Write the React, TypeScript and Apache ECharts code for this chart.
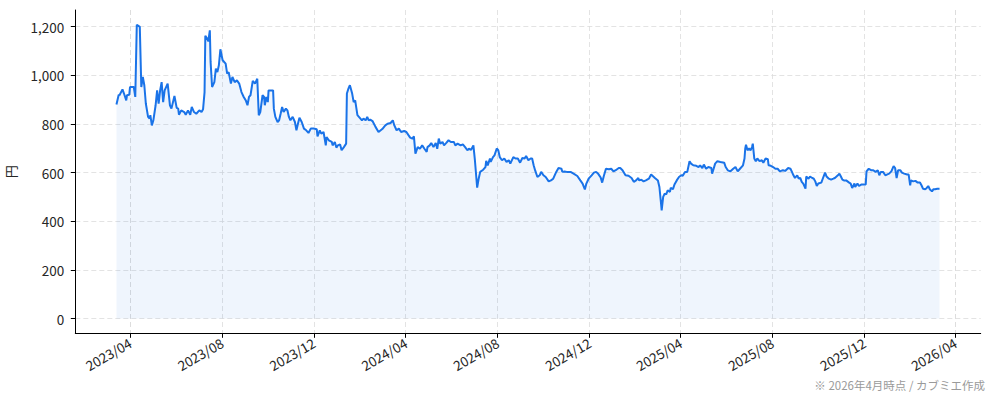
import React, { useEffect, useRef } from 'react';
import * as echarts from 'echarts';

const dates = [
  '2023-03-14','2023-03-17','2023-03-18','2023-03-22','2023-03-24','2023-03-27','2023-03-28','2023-03-31','2023-04-01','2023-04-06',
  '2023-04-08','2023-04-10','2023-04-14','2023-04-16','2023-04-18','2023-04-20','2023-04-22','2023-04-25','2023-04-27','2023-04-28',
  '2023-04-30','2023-05-02','2023-05-05','2023-05-07','2023-05-09','2023-05-11','2023-05-13','2023-05-15','2023-05-17','2023-05-21',
  '2023-05-24','2023-05-26','2023-05-30','2023-06-02','2023-06-04','2023-06-05','2023-06-08','2023-06-12','2023-06-14','2023-06-17',
  '2023-06-20','2023-06-22','2023-06-25','2023-06-28','2023-07-02','2023-07-05','2023-07-07','2023-07-09','2023-07-10','2023-07-12',
  '2023-07-14','2023-07-16','2023-07-17','2023-07-19','2023-07-22','2023-07-24','2023-07-26','2023-07-28','2023-07-30','2023-08-02',
  '2023-08-06','2023-08-08','2023-08-10','2023-08-13','2023-08-15','2023-08-18','2023-08-21','2023-08-24','2023-08-27','2023-08-30',
  '2023-09-02','2023-09-04','2023-09-06','2023-09-08','2023-09-11','2023-09-14','2023-09-17','2023-09-19','2023-09-21','2023-09-24',
  '2023-09-26','2023-09-27','2023-09-29','2023-10-01','2023-10-02','2023-10-08','2023-10-09','2023-10-11','2023-10-14','2023-10-16',
  '2023-10-18','2023-10-20','2023-10-22','2023-10-25','2023-10-27','2023-10-29','2023-10-31','2023-11-03','2023-11-06','2023-11-08',
  '2023-11-10','2023-11-12','2023-11-15','2023-11-18','2023-11-21','2023-11-24','2023-11-27','2023-12-01','2023-12-05','2023-12-06',
  '2023-12-09','2023-12-11','2023-12-14','2023-12-17','2023-12-18','2023-12-21','2023-12-25','2023-12-26','2023-12-29','2023-12-31',
  '2024-01-02','2024-01-05','2024-01-07','2024-01-10','2024-01-13','2024-01-14','2024-01-16','2024-01-18','2024-01-21','2024-01-23',
  '2024-01-25','2024-01-28','2024-02-01','2024-02-03','2024-02-05','2024-02-08','2024-02-10','2024-02-12','2024-02-14','2024-02-17',
  '2024-02-21','2024-02-25','2024-03-01','2024-03-05','2024-03-08','2024-03-12','2024-03-15','2024-03-17','2024-03-20','2024-03-23',
  '2024-03-26','2024-03-30','2024-04-02','2024-04-05','2024-04-07','2024-04-10','2024-04-12','2024-04-14','2024-04-17','2024-04-20',
  '2024-04-23','2024-04-26','2024-04-29','2024-04-30','2024-05-03','2024-05-05','2024-05-08','2024-05-11','2024-05-13','2024-05-15',
  '2024-05-17','2024-05-20','2024-05-22','2024-05-25','2024-05-28','2024-05-31','2024-06-04','2024-06-06','2024-06-09','2024-06-13',
  '2024-06-16','2024-06-19','2024-06-22','2024-06-24','2024-06-27','2024-06-30','2024-07-02','2024-07-05','2024-07-07','2024-07-09',
  '2024-07-13','2024-07-16','2024-07-17','2024-07-19','2024-07-22','2024-07-23','2024-07-26','2024-07-28','2024-07-31','2024-08-02',
  '2024-08-04','2024-08-07','2024-08-10','2024-08-13','2024-08-16','2024-08-18','2024-08-22','2024-08-25','2024-08-28','2024-08-31',
  '2024-09-03','2024-09-06','2024-09-08','2024-09-11','2024-09-14','2024-09-16','2024-09-18','2024-09-20','2024-09-23','2024-09-26',
  '2024-09-28','2024-10-01','2024-10-04','2024-10-08','2024-10-11','2024-10-14','2024-10-18','2024-10-21','2024-10-25','2024-10-26',
  '2024-10-29','2024-11-01','2024-11-06','2024-11-10','2024-11-15','2024-11-19','2024-11-22','2024-11-25','2024-11-27','2024-11-30',
  '2024-12-04','2024-12-07','2024-12-10','2024-12-13','2024-12-16','2024-12-18','2024-12-20','2024-12-23','2024-12-27','2024-12-30',
  '2025-01-02','2025-01-05','2025-01-09','2025-01-11','2025-01-14','2025-01-18','2025-01-22','2025-01-26','2025-01-29','2025-02-01',
  '2025-02-04','2025-02-05','2025-02-08','2025-02-11','2025-02-14','2025-02-18','2025-02-21','2025-02-26','2025-03-02','2025-03-04',
  '2025-03-06','2025-03-07','2025-03-09','2025-03-11','2025-03-13','2025-03-15','2025-03-18','2025-03-19','2025-03-22','2025-03-24',
  '2025-03-27','2025-03-30','2025-04-02','2025-04-04','2025-04-07','2025-04-10','2025-04-13','2025-04-15','2025-04-18','2025-04-22',
  '2025-04-25','2025-04-27','2025-04-30','2025-05-02','2025-05-05','2025-05-08','2025-05-12','2025-05-13','2025-05-15','2025-05-17',
  '2025-05-20','2025-05-24','2025-05-29','2025-05-31','2025-06-03','2025-06-06','2025-06-10','2025-06-13','2025-06-16','2025-06-19',
  '2025-06-23','2025-06-25','2025-06-26','2025-06-27','2025-06-29','2025-07-01','2025-07-03','2025-07-05','2025-07-06','2025-07-08',
  '2025-07-10','2025-07-12','2025-07-15','2025-07-18','2025-07-20','2025-07-23','2025-07-26','2025-07-27','2025-07-30','2025-08-02',
  '2025-08-05','2025-08-08','2025-08-11','2025-08-15','2025-08-18','2025-08-22','2025-08-25','2025-08-27','2025-08-29','2025-08-31',
  '2025-09-03','2025-09-05','2025-09-07','2025-09-09','2025-09-11','2025-09-14','2025-09-15','2025-09-18','2025-09-20','2025-09-23',
  '2025-09-25','2025-09-27','2025-09-29','2025-10-01','2025-10-05','2025-10-08','2025-10-10','2025-10-12','2025-10-15','2025-10-18',
  '2025-10-21','2025-10-23','2025-10-27','2025-10-29','2025-10-31','2025-11-02','2025-11-04','2025-11-07','2025-11-11','2025-11-13',
  '2025-11-15','2025-11-18','2025-11-19','2025-11-22','2025-11-24','2025-11-27','2025-11-30','2025-12-03','2025-12-04','2025-12-07',
  '2025-12-10','2025-12-13','2025-12-16','2025-12-19','2025-12-21','2025-12-23','2025-12-26','2025-12-29','2025-12-31','2026-01-03',
  '2026-01-06','2026-01-09','2026-01-11','2026-01-13','2026-01-15','2026-01-18','2026-01-20','2026-01-23','2026-01-27','2026-01-29',
  '2026-01-31','2026-02-01','2026-02-04','2026-02-07','2026-02-10','2026-02-13','2026-02-15','2026-02-17','2026-02-20','2026-02-22',
  '2026-02-24','2026-02-26','2026-03-01','2026-03-03','2026-03-05','2026-03-08','2026-03-11',
];

const prices = [
  880, 920, 918, 942, 925, 897, 918, 920, 952, 952,
  911, 1208, 1199, 952, 993, 959, 884, 829, 822, 836,
  794, 815, 877, 938, 884, 938, 972, 890, 938, 966,
  877, 863, 915, 866, 863, 838, 856, 849, 838, 856,
  838, 870, 849, 842, 856, 849, 860, 931, 1162, 1153,
  1140, 1185, 1055, 952, 972, 1027, 1013, 1041, 1107, 1062,
  1048, 1007, 1013, 966, 993, 972, 979, 966, 931, 911,
  895, 877, 911, 918, 977, 966, 986, 836, 849, 918,
  911, 877, 911, 890, 938, 938, 863, 829, 808, 815,
  842, 870, 849, 863, 856, 829, 815, 829, 808, 774,
  801, 826, 808, 781, 774, 763, 781, 781, 778, 749,
  774, 760, 767, 712, 746, 733, 726, 712, 726, 703,
  712, 716, 692, 705, 719, 925, 945, 959, 925, 890,
  897, 836, 822, 815, 822, 815, 829, 815, 818, 812,
  788, 767, 779, 794, 801, 804, 815, 794, 774, 781,
  767, 771, 767, 753, 744, 740, 749, 678, 705, 698,
  712, 698, 685, 705, 712, 722, 705, 722, 698, 740,
  719, 726, 712, 722, 733, 726, 726, 712, 719, 712,
  716, 705, 692, 698, 694, 712, 651, 538, 575, 603,
  612, 623, 648, 630, 658, 644, 664, 671, 699, 692,
  664, 651, 658, 644, 651, 637, 664, 658, 658, 641,
  660, 658, 668, 651, 658, 658, 630, 609, 582, 589,
  603, 589, 582, 564, 568, 575, 603, 619, 616, 603,
  605, 603, 603, 596, 586, 568, 555, 531, 555, 575,
  589, 600, 603, 594, 580, 559, 584, 616, 614, 616,
  605, 610, 619, 619, 610, 589, 587, 578, 562, 568,
  578, 568, 571, 564, 568, 575, 592, 578, 568, 541,
  479, 445, 500, 514, 510, 527, 521, 537, 532, 551,
  568, 582, 589, 587, 603, 603, 647, 637, 630, 628,
  623, 630, 619, 633, 616, 623, 619, 596, 616, 637,
  647, 644, 641, 623, 609, 605, 616, 623, 605, 616,
  630, 658, 699, 715, 692, 699, 692, 705, 719, 658,
  647, 658, 647, 651, 641, 658, 655, 630, 628, 623,
  616, 616, 605, 610, 607, 619, 616, 603, 589, 578,
  589, 575, 578, 562, 555, 534, 584, 575, 584, 578,
  575, 564, 545, 555, 559, 584, 600, 584, 575, 571,
  575, 578, 589, 596, 584, 571, 568, 568, 559, 555,
  537, 555, 541, 555, 545, 551, 551, 551, 605, 616,
  610, 610, 603, 610, 589, 603, 603, 589, 592, 596,
  605, 627, 619, 578, 610, 610, 600, 596, 592, 592,
  548, 568, 564, 566, 559, 559, 548, 534, 532, 537,
  545, 532, 523, 532, 532, 534, 534,
];

const xTickLabels = ['2023/04', '2023/08', '2023/12', '2024/04', '2024/08', '2024/12', '2025/04', '2025/08', '2025/12', '2026/04'];
const yTicks = [0, 200, 400, 600, 800, 1000, 1200];
const yAxisName = '円';
const footnote = '※ 2026年4月時点 / カブミエ作成';

const FONT = '"Noto Sans CJK JP", "Noto Sans", sans-serif';

function toTime(s: string): number {
  const parts = s.split(/[-/]/).map(Number);
  return new Date(parts[0], parts[1] - 1, parts[2] || 1).getTime();
}

export default function App() {
  const ref = useRef<HTMLDivElement>(null);

  useEffect(() => {
    if (!ref.current) return;
    const chart = echarts.init(ref.current, null, { renderer: 'svg' });

    const times = dates.map(toTime);
    const tMin = times[0];
    const tMax = times[times.length - 1];
    const tPad = (tMax - tMin) * 0.05;
    const vMin = 0;
    const vMax = Math.max(...prices);
    const vPad = (vMax - vMin) * 0.05;
    const tickTimes = xTickLabels.map(toTime);

    const gridLine = { show: true, lineStyle: { color: '#dcdcdc', type: [5, 3], width: 0.8 } };

    chart.setOption({
      animation: false,
      textStyle: { fontFamily: FONT },
      grid: {
        left: 75.3,
        right: 13.3,
        top: 10,
        bottom: 67.7,
        containLabel: false,
        outerBoundsMode: 'none',
      },
      xAxis: {
        type: 'time',
        min: tMin - tPad,
        max: tMax + tPad,
        axisLine: { show: true, onZero: false, lineStyle: { color: '#000', width: 1 } },
        axisTick: { show: true, length: 4.5, customValues: tickTimes, lineStyle: { color: '#000', width: 1 } },
        axisLabel: {
          customValues: tickTimes,
          formatter: '{yyyy}/{MM}',
          rotate: 30,
          margin: 8,
          fontSize: 13.5,
          color: '#262626',
          fontFamily: FONT,
          hideOverlap: false,
        },
        splitLine: gridLine,
      },
      yAxis: {
        type: 'value',
        min: vMin - vPad,
        max: vMax + vPad,
        name: yAxisName,
        nameLocation: 'middle',
        nameGap: 58,
        nameRotate: 90,
        nameTextStyle: { fontSize: 13, color: '#262626', fontFamily: FONT },
        axisLine: { show: true, onZero: false, lineStyle: { color: '#000', width: 1 } },
        axisTick: { show: true, length: 4.5, customValues: yTicks, lineStyle: { color: '#000', width: 1 } },
        axisLabel: {
          customValues: yTicks,
          formatter: (v: number) => v.toLocaleString('en-US'),
          margin: 11,
          fontSize: 13.5,
          color: '#262626',
          fontFamily: FONT,
        },
        splitLine: gridLine,
      },
      series: [
        {
          type: 'line',
          data: times.map((t, i) => [t, prices[i]]),
          showSymbol: false,
          symbol: 'none',
          lineStyle: { color: '#1a73e8', width: 2 },
          itemStyle: { color: '#1a73e8' },
          areaStyle: { color: 'rgba(26,115,232,0.1)', origin: 0 },
        },
      ],
      graphic: [
        {
          type: 'text',
          right: 9,
          top: 379,
          style: { text: footnote, fontSize: 11.5, fill: '#9a9a9a', fontFamily: FONT },
        },
      ],
    });

    return () => chart.dispose();
  }, []);

  return <div ref={ref} style={{ position: 'absolute', left: 0, top: 0, width: 994, height: 401 }} />;
}
